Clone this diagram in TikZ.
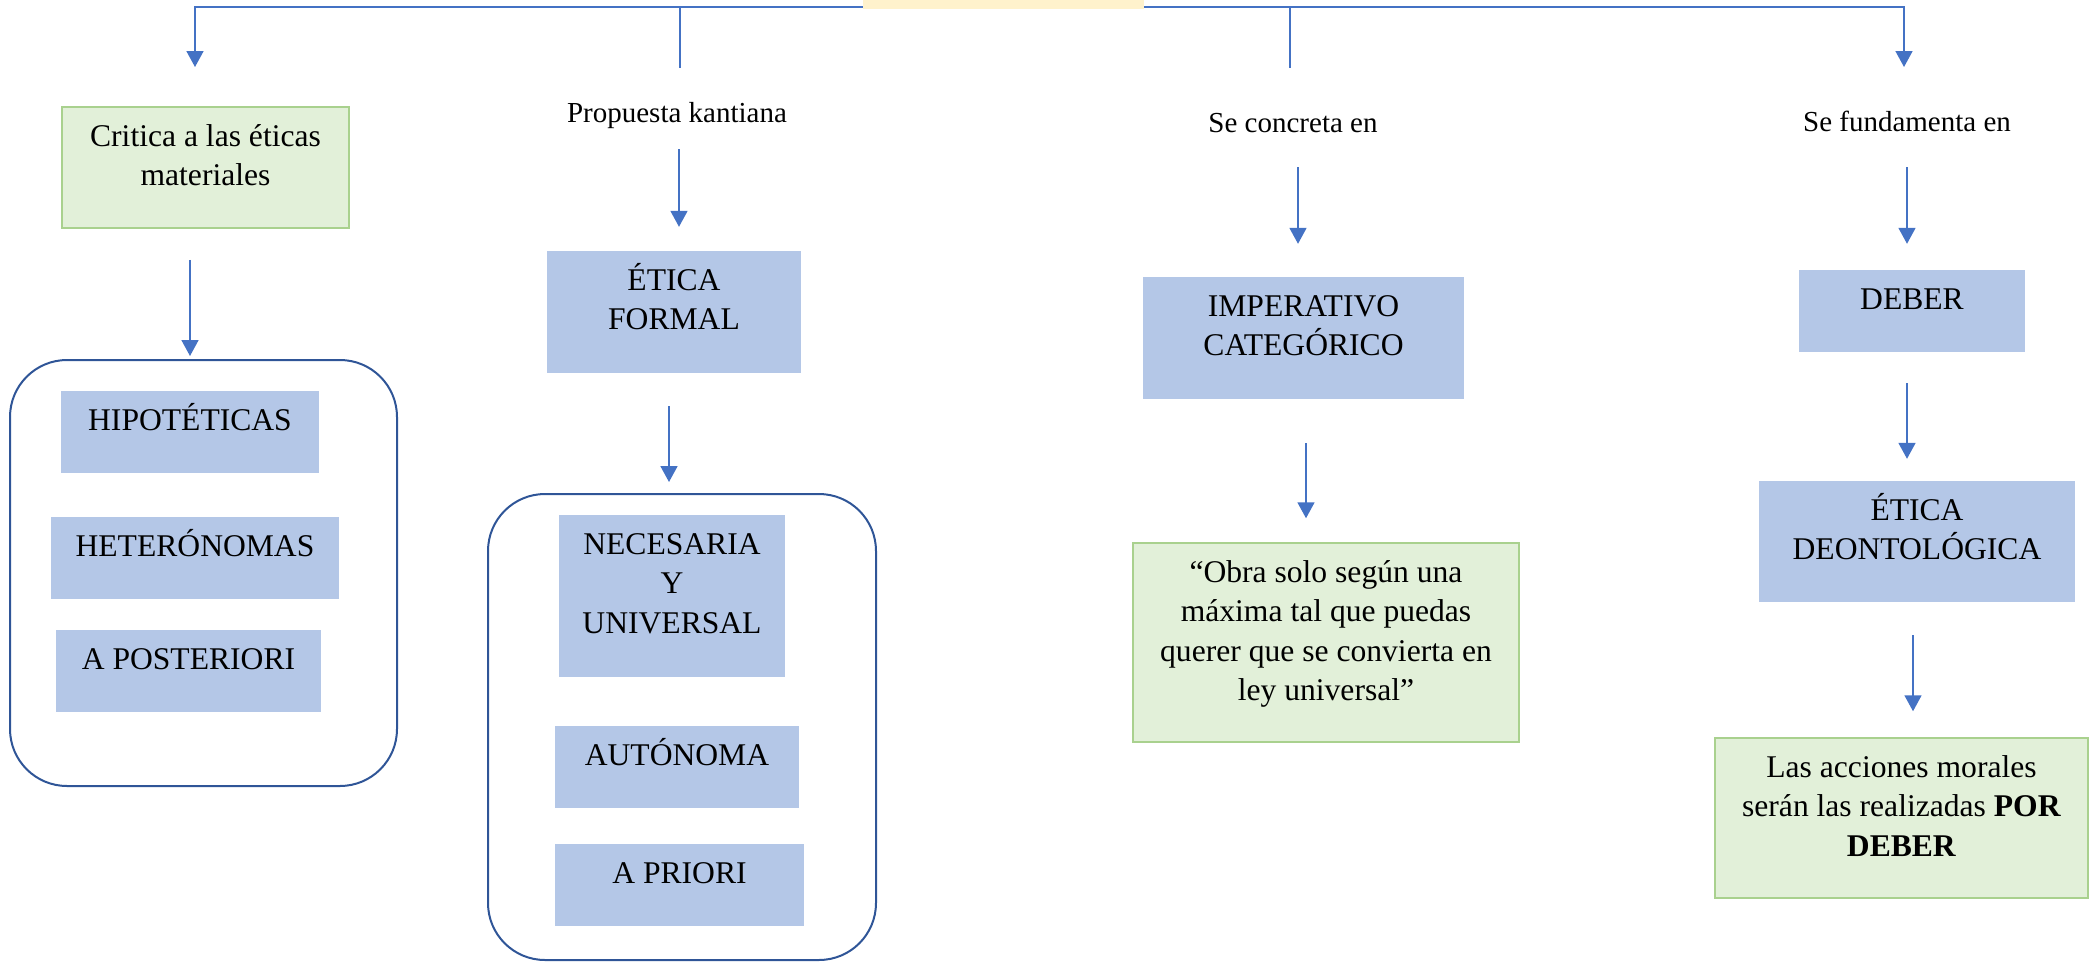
\documentclass[tikz,border=0pt]{standalone}
\usepackage{fontspec}
\setmainfont{Liberation Serif}
\usetikzlibrary{arrows.meta,calc}

\definecolor{azulcaja}{HTML}{B4C7E7}
\definecolor{verdecaja}{HTML}{E2F0D9}
\definecolor{verdeborde}{HTML}{A9D18E}
\definecolor{azulmarco}{HTML}{2F5597}
\definecolor{azulflecha}{HTML}{4472C4}
\definecolor{amarillo}{HTML}{FFF2CC}

% texto arriba dentro de una caja de ancho y alto fijos
\newcommand{\caja}[3]{\parbox[c][#2pt][t]{#1pt}{\centering\rule{0pt}{39pt}#3}}

\tikzstyle{azul} = [fill=azulcaja, inner sep=0pt, font=\fontsize{31.6pt}{39.5pt}\selectfont]
\tikzstyle{verde} = [fill=verdecaja, draw=verdeborde, line width=1.5pt, inner sep=0pt, font=\fontsize{31.6pt}{39.5pt}\selectfont]
\tikzstyle{marco} = [draw=azulmarco, line width=2pt, rounded corners=57pt, inner sep=0pt]
\tikzstyle{etiqueta} = [inner sep=0pt, anchor=base, font=\fontsize{29pt}{36pt}\selectfont]
\tikzstyle{linea} = [draw=azulflecha, line width=1.7pt]
\tikzstyle{flecha} = [linea, -{Triangle[width=17pt,length=16pt]}]

\begin{document}
\begin{tikzpicture}[x=1pt, y=-1pt]
  \useasboundingbox (0,0) rectangle (2089,962);

  % raiz (casi fuera de la hoja)
  \node[fill=amarillo, minimum width=281pt, minimum height=59pt, inner sep=0pt] (raiz) at (1003.5,-20.5) {};
  \coordinate (tope) at ($(raiz.south)+(0,-2)$);
  \coordinate (f1) at (195,67);
  \coordinate (f2) at (680,68);
  \coordinate (f3) at (1290,68);
  \coordinate (f4) at (1904,67);

  % columna 1
  \node[marco, minimum width=387pt, minimum height=426pt] (marco1) at (203.5,573) {};
  \node[verde] (critica) at (205.5,167.5) {\caja{287}{121}{Critica a las éticas\\materiales}};
  \node[azul] (hipo) at (190,432) {\caja{258}{82}{HIPOTÉTICAS}};
  \node[azul] (hetero) at (195,558) {\caja{288}{82}{HETERÓNOMAS}};
  \node[azul] (poste) at (188.5,671) {\caja{265}{82}{A POSTERIORI}};

  % columna 2
  \node[etiqueta] (propuesta) at (677,122) {Propuesta kantiana};
  \node[azul] (formal) at (674,312) {\caja{254}{122}{ÉTICA\\FORMAL}};
  \node[marco, minimum width=388pt, minimum height=466pt] (marco2) at (682,727) {};
  \node[azul] (necesaria) at (672,596) {\caja{226}{162}{NECESARIA\\Y\\UNIVERSAL}};
  \node[azul] (autonoma) at (677,767) {\caja{244}{82}{AUTÓNOMA}};
  \node[azul] (priori) at (679.5,885) {\caja{249}{82}{A PRIORI}};

  % columna 3
  \node[etiqueta] (concreta) at (1293,132) {Se concreta en};
  \node[azul] (imperativo) at (1303.5,338) {\caja{321}{122}{IMPERATIVO\\CATEGÓRICO}};
  \node[verde] (maxima) at (1326,642.5) {\caja{386}{199}{“Obra solo según una\\máxima tal que puedas\\querer que se convierta en\\ley universal”}};

  % columna 4
  \node[etiqueta] (fundamenta) at (1907,131) {Se fundamenta en};
  \node[azul] (deber) at (1912,311) {\caja{226}{82}{DEBER}};
  \node[azul] (deonto) at (1917,541.5) {\caja{316}{121}{ÉTICA\\DEONTOLÓGICA}};
  \node[verde] (acciones) at (1901.5,818) {\caja{373}{160}{Las acciones morales\\serán las realizadas \textbf{POR}\\\textbf{DEBER}}};

  % conectores
  \draw[flecha] ($(raiz.south west)+(0,-2)$) -| (f1);
  \draw[flecha] ($(raiz.south east)+(0,-2)$) -| (f4);
  \draw[linea] (f2 |- tope) -- (f2);
  \draw[linea] (f3 |- tope) -- (f3);

  \draw[flecha] ($(critica.south -| hipo)+(0,31)$) -- ($(marco1.north -| hipo)+(0,-3)$);
  \draw[flecha] ($(propuesta.base)+(2,27)$) -- ($(formal.north)+(5,-24)$);
  \draw[flecha] ($(formal.south)+(-5,33)$) -- ($(marco2.north)+(-13,-11)$);
  \draw[flecha] ($(concreta.base)+(5,35)$) -- ($(imperativo.north)+(-5.5,-33)$);
  \draw[flecha] ($(imperativo.south)+(2.5,44)$) -- ($(maxima.north)+(-20,-24)$);
  \draw[flecha] ($(fundamenta.base)+(0,36)$) -- ($(deber.north)+(-5,-26)$);
  \draw[flecha] ($(deber.south)+(-5,31)$) -- ($(deonto.north)+(-10,-22)$);
  \draw[flecha] ($(deonto.south)+(-4,33)$) -- ($(acciones.north)+(11.5,-26)$);
\end{tikzpicture}
\end{document}
